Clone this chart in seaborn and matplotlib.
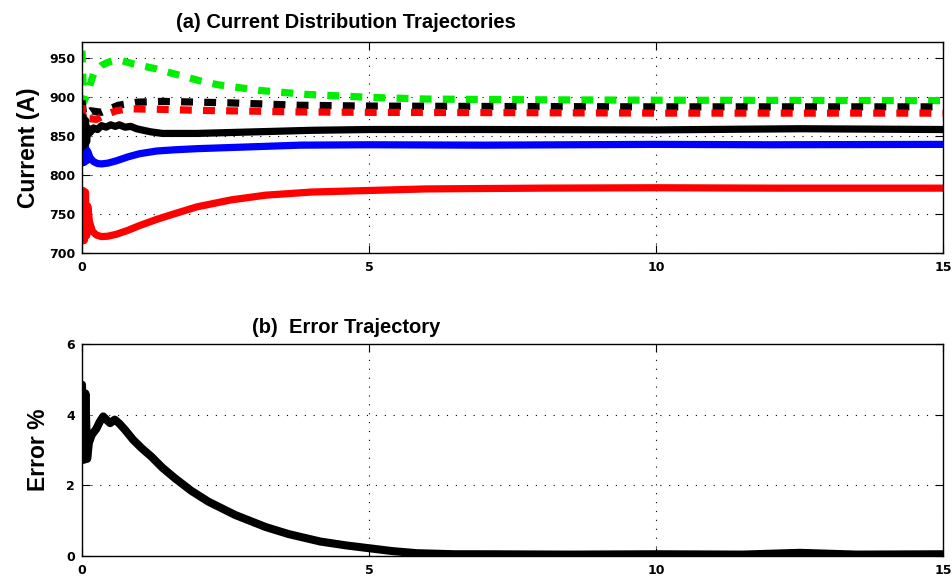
import matplotlib
matplotlib.use("Agg")
import matplotlib.pyplot as plt
import seaborn as sns
import pandas as pd

sns.set_style("white")
plt.rcParams["font.family"] = ["Liberation Sans Narrow", "Liberation Sans", "DejaVu Sans"]
plt.rcParams["text.color"] = "black"
plt.rcParams["axes.labelcolor"] = "black"
plt.rcParams["xtick.color"] = "black"
plt.rcParams["ytick.color"] = "black"

# ---- (a) branch currents, time in s, current in A ----
t_red = [0.0, 0.02, 0.04, 0.06, 0.08, 0.10, 0.13, 0.18, 0.25, 0.34, 0.45, 0.6,
         0.8, 1.0, 1.3, 1.6, 2.0, 2.6, 3.2, 4.0, 5.0, 6.0, 8.0, 10.0, 12.0, 15.0]
i_red = [715, 780, 716, 778, 722, 760, 740, 728, 723, 721, 721.5, 724,
         729, 735, 743, 750, 759, 768, 774, 778, 780, 782, 783, 783.5, 783, 783]

t_blue = [0.0, 0.02, 0.04, 0.06, 0.08, 0.10, 0.14, 0.2, 0.27, 0.34, 0.45, 0.6,
          0.8, 1.0, 1.3, 1.6, 2.0, 3.0, 3.8, 5.0, 7.0, 10.0, 12.0, 15.0]
i_blue = [815, 840, 816, 838, 818, 830, 822, 817, 814.5, 814, 815, 818,
          823, 827, 830.5, 832, 833.5, 836, 838, 838.5, 838, 839, 838.5, 839]

t_blk = [0.0, 0.02, 0.04, 0.06, 0.08, 0.10, 0.14, 0.2, 0.27, 0.34, 0.42, 0.5,
         0.58, 0.65, 0.75, 0.85, 0.95, 1.04, 1.2, 1.4, 2.0, 3.0, 4.0, 5.0,
         7.0, 10.0, 12.5, 15.0]
i_blk = [836, 874, 838, 870, 842, 860, 854, 860, 858, 863, 861, 864,
         862, 864, 861, 862, 859, 857.5, 855, 853, 853, 855, 857, 858,
         858, 857.5, 859, 858]

t_grn = [0.0, 0.03, 0.07, 0.11, 0.2, 0.27, 0.34, 0.45, 0.57, 0.7, 0.89, 1.27,
         1.62, 2.02, 2.35, 3.1, 3.9, 5.07, 6.0, 8.0, 10.0, 15.0]
i_grn = [959, 893, 900, 908, 929, 935, 940, 944, 946.5, 946, 942, 936,
         929, 921, 915.5, 908, 903, 899, 897, 896, 895.5, 895]

t_bkd = [0.0, 0.03, 0.15, 0.34, 0.5, 0.63, 0.8, 0.97, 1.4, 2.05, 2.63, 3.8, 5.0,
         7.0, 10.0, 15.0]
i_bkd = [895, 876, 882, 880, 885, 889, 891, 893, 894, 893, 892, 889, 888,
         887.5, 887, 887]

t_rdd = [0.0, 0.03, 0.12, 0.25, 0.45, 0.6, 0.8, 1.3, 2.05, 3.0, 3.8, 5.0,
         8.0, 10.0, 15.0]
i_rdd = [889, 868, 872, 871, 878, 882, 884.5, 884, 882.5, 881.5, 880.5, 880,
         879.5, 879, 879]

# ---- (b) distribution error, % ----
t_err = [0.0, 0.03, 0.06, 0.09, 0.12, 0.17, 0.25, 0.31, 0.37, 0.43, 0.49, 0.57,
         0.65, 0.75, 0.89, 1.04, 1.21, 1.4, 1.62, 1.9, 2.2, 2.67, 3.2, 3.6,
         4.15, 4.6, 5.0, 5.4, 5.83, 6.5, 7.0, 8.5, 10.0, 11.5, 12.5, 13.5, 15.0]
e_err = [4.85, 2.72, 4.6, 2.75, 3.2, 3.43, 3.6, 3.8, 3.95, 3.85, 3.76, 3.86,
         3.75, 3.57, 3.29, 3.05, 2.81, 2.5, 2.2, 1.85, 1.54, 1.16, 0.82, 0.62,
         0.41, 0.3, 0.22, 0.14, 0.08, 0.05, 0.05, 0.04, 0.05, 0.04, 0.09, 0.04, 0.05]

fig = plt.figure(figsize=(9.53, 5.78), dpi=100)
ax1 = fig.add_axes([82 / 953, 1 - 253 / 578, 861 / 953, 211 / 578])
ax2 = fig.add_axes([82 / 953, 1 - 556 / 578, 861 / 953, 212 / 578])

lw = 5.2
dash = (1.65, 1.55)

solid = [(t_red, i_red, "#ff0000"), (t_blue, i_blue, "#0000ff"), (t_blk, i_blk, "#000000")]
dashed = [(t_grn, i_grn, "#00ee00"), (t_bkd, i_bkd, "#000000"), (t_rdd, i_rdd, "#ff0000")]

for t, v, c in dashed:
    df = pd.DataFrame({"t": t, "i": v})
    sns.lineplot(data=df, x="t", y="i", ax=ax1, color=c, linewidth=lw,
                 sort=False, estimator=None)
    ax1.lines[-1].set_dashes(dash)
    ax1.lines[-1].set_dash_capstyle("butt")
for t, v, c in solid:
    df = pd.DataFrame({"t": t, "i": v})
    sns.lineplot(data=df, x="t", y="i", ax=ax1, color=c, linewidth=lw,
                 sort=False, estimator=None)

df_err = pd.DataFrame({"t": t_err, "e": e_err})
sns.lineplot(data=df_err, x="t", y="e", ax=ax2, color="black", linewidth=5.8,
             sort=False, estimator=None)

tick_font = dict(family="DejaVu Sans", weight="bold", size=9)

ax1.set_xlim(0, 15)
ax1.set_ylim(700, 970)
ax1.set_yticks([700, 750, 800, 850, 900, 950])
ax2.set_xlim(0, 15)
ax2.set_ylim(0, 6)
ax2.set_yticks([0, 2, 4, 6])

for ax in (ax1, ax2):
    ax.set_xticks([0, 5, 10, 15])
    ax.set_xlabel("")
    ax.grid(True, linestyle=(0, (1, 7)), color="black", linewidth=0.8)
    ax.tick_params(direction="in", length=6, width=0.8, top=True, right=True,
                   bottom=True, left=True)
    ax.tick_params(axis="x", pad=6)
    ax.tick_params(axis="y", pad=5)
    for lab in ax.get_xticklabels() + ax.get_yticklabels():
        lab.set_fontproperties(tick_font)
    for s in ax.spines.values():
        s.set_visible(True)
        s.set_color("black")
        s.set_linewidth(1.0)

title_x = (346 - 82) / 861
title_kw = dict(fontsize=14.5, fontweight="bold", x=title_x)
ax1.set_title("(a) Current Distribution Trajectories", pad=10, **title_kw)
ax2.set_title("(b)  Error Trajectory", pad=8, **title_kw)
ax1.set_ylabel("Current (A)", fontsize=16.5, fontweight="bold", labelpad=6)
ax2.set_ylabel("Error %", fontsize=16.5, fontweight="bold", labelpad=12)

fig.savefig("out.png", dpi=100)
